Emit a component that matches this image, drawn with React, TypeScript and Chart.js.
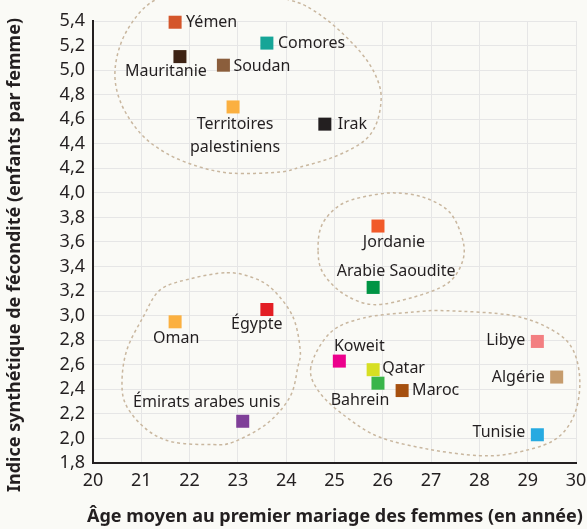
import React, { useEffect, useRef } from "react";
import { Chart, registerables } from "chart.js";

Chart.register(...registerables);

const countries = [
  "Yémen", "Comores", "Mauritanie", "Soudan", "Territoires\npalestiniens", "Irak",
  "Jordanie", "Arabie Saoudite", "Oman", "Égypte", "Émirats arabes unis",
  "Koweit", "Qatar", "Bahrein", "Maroc", "Libye", "Algérie", "Tunisie",
];
const ages = [21.7, 23.6, 21.8, 22.7, 22.9, 24.8, 25.9, 25.8, 21.7, 23.6, 23.1, 25.1, 25.8, 25.9, 26.4, 29.2, 29.6, 29.2];
const fertility = [5.39, 5.22, 5.11, 5.04, 4.7, 4.56, 3.73, 3.23, 2.95, 3.05, 2.14, 2.63, 2.56, 2.45, 2.39, 2.79, 2.5, 2.03];
const colors = [
  "#d4562b", "#16a597", "#3d2314", "#8b5e3c", "#fbb040", "#231f20",
  "#f15a29", "#009444", "#fbb040", "#e31e24", "#7f3f98",
  "#ec008c", "#d7df23", "#39b54a", "#a6500f", "#f37f81", "#c69c6d", "#27aae1",
];

// group outlines (data coordinates: age, fertility)
const groupHigh = [[23.15,5.65],[24.08,5.57],[24.55,5.49],[25.11,5.32],[25.67,5.08],[25.94,4.86],[25.94,4.67],[25.8,4.51],[25.53,4.4],[24.97,4.29],[24.29,4.21],[23.87,4.17],[22.9,4.16],[22.22,4.21],[21.53,4.32],[20.97,4.49],[20.56,4.75],[20.46,5.02],[20.7,5.32],[21.28,5.57],[22.22,5.64]];
const groupMid = [[24.66,3.53],[24.74,3.74],[25.11,3.9],[25.63,3.97],[26.25,4.0],[26.87,3.96],[27.39,3.84],[27.66,3.61],[27.64,3.43],[27.33,3.26],[26.63,3.15],[25.8,3.09],[25.18,3.18],[24.76,3.35]];
const groupLowLeft = [[22.77,3.35],[23.31,3.31],[23.73,3.21],[24.14,2.99],[24.29,2.72],[24.24,2.58],[24.08,2.34],[23.6,2.12],[22.9,1.97],[22.48,1.95],[21.66,1.97],[21.12,2.07],[20.7,2.26],[20.6,2.45],[20.7,2.72],[21.04,2.99],[21.39,3.21],[22.01,3.3]];
const groupLowRight = [[24.51,2.58],[24.7,2.37],[25.26,2.17],[25.94,2.01],[26.98,1.91],[28.01,1.86],[28.7,1.88],[29.52,1.98],[29.94,2.17],[30.08,2.45],[29.94,2.72],[29.52,2.88],[28.7,3.0],[27.33,3.04],[26.63,3.03],[25.59,2.98],[24.91,2.86]];
const groups = [groupHigh, groupMid, groupLowLeft, groupLowRight];

const xTitle = "Âge moyen au premier mariage des femmes (en année)";
const yTitle = "Indice synthétique de fécondité (enfants par femme)";

// label placement relative to each marker
const labelPlacement: [number, number, CanvasTextAlign][] = [
  [11, 0, "left"], [11, 0, "left"], [-14, 15, "center"], [10, 1, "left"],
  [2, 17, "center"], [13, 0, "left"], [16, 16, "center"], [23, -16, "center"],
  [1, 17, "center"], [-10, 15, "center"], [-36, -19, "center"], [20, -15, "center"],
  [9, -1, "left"], [-18, 17, "center"], [10, 0, "left"], [-12, -1, "right"],
  [-12, 0, "right"], [-12, -2, "right"],
];

const FONT = '"Noto Sans", sans-serif';
const TEXT = "#231f20";

function closedSpline(ctx: CanvasRenderingContext2D, pts: number[][]) {
  const n = pts.length;
  ctx.beginPath();
  ctx.moveTo(pts[0][0], pts[0][1]);
  for (let i = 0; i < n; i++) {
    const p0 = pts[(i - 1 + n) % n], p1 = pts[i], p2 = pts[(i + 1) % n], p3 = pts[(i + 2) % n];
    const c1x = p1[0] + (p2[0] - p0[0]) / 6, c1y = p1[1] + (p2[1] - p0[1]) / 6;
    const c2x = p2[0] - (p3[0] - p1[0]) / 6, c2y = p2[1] - (p3[1] - p1[1]) / 6;
    ctx.bezierCurveTo(c1x, c1y, c2x, c2y, p2[0], p2[1]);
  }
  ctx.closePath();
}

const decor = {
  id: "decor",
  beforeDraw(chart: any) {
    const ctx = chart.ctx;
    ctx.save();
    ctx.fillStyle = "#fafaf6";
    ctx.fillRect(0, 0, chart.width, chart.height);
    ctx.restore();
  },
  beforeDatasetsDraw(chart: any) {
    const ctx = chart.ctx;
    const xs = chart.scales.x, ys = chart.scales.y;
    ctx.save();
    ctx.strokeStyle = "#c9b79f";
    ctx.lineWidth = 1.5;
    ctx.setLineDash([3, 3]);
    groups.forEach((g) => {
      const pts = g.map(([a, b]) => [xs.getPixelForValue(a), ys.getPixelForValue(b)]);
      closedSpline(ctx, pts);
      ctx.stroke();
    });
    ctx.restore();
  },
  afterDatasetsDraw(chart: any) {
    const ctx = chart.ctx;
    const meta = chart.getDatasetMeta(0);
    ctx.save();
    ctx.fillStyle = TEXT;
    ctx.font = `16px ${FONT}`;
    ctx.textBaseline = "middle";
    meta.data.forEach((pt: any, i: number) => {
      const [dx, dy, align] = labelPlacement[i];
      ctx.textAlign = align;
      countries[i].split("\n").forEach((line, j) => {
        ctx.fillText(line, pt.x + dx, pt.y + dy + j * 23);
      });
    });
    // axis titles
    ctx.font = `bold 18px ${FONT}`;
    ctx.textAlign = "center";
    ctx.fillText(xTitle, 335, 517);
    ctx.translate(15, 255);
    ctx.rotate(-Math.PI / 2);
    ctx.fillText(yTitle, 0, 0);
    ctx.restore();
  },
};

export default function App() {
  const ref = useRef<HTMLCanvasElement>(null);
  useEffect(() => {
    document.body.style.margin = "0";
    const chart = new Chart(ref.current!, {
      type: "scatter",
      data: {
        datasets: [
          {
            data: ages.map((a, i) => ({ x: a, y: fertility[i] })),
            pointStyle: "rect",
            pointRadius: 9.2,
            pointHoverRadius: 9.2,
            pointBackgroundColor: colors,
            pointBorderColor: colors,
            pointBorderWidth: 0,
            clip: false,
          } as any,
        ],
      },
      options: {
        animation: false,
        responsive: false,
        events: [],
        layout: { padding: { top: 21, right: 11, left: 0, bottom: 0 } },
        plugins: { legend: { display: false }, tooltip: { enabled: false } },
        scales: {
          x: {
            type: "linear",
            min: 20,
            max: 30,
            afterFit: (s: any) => { s.height = 66; s.paddingLeft = 0; s.paddingRight = 0; },
            ticks: { stepSize: 1, autoSkip: false, maxRotation: 0, color: TEXT, font: { family: FONT, size: 18 }, padding: 7 },
            grid: { color: "#e6e6e6", drawTicks: false },
            border: { color: TEXT, width: 2 },
          },
          y: {
            type: "linear",
            min: 1.8,
            max: 5.4,
            afterFit: (s: any) => { s.width = 93; s.paddingTop = 0; s.paddingBottom = 0; },
            ticks: {
              stepSize: 0.2,
              autoSkip: false,
              color: TEXT,
              font: { family: FONT, size: 18 },
              padding: 8,
              callback: (v: any) => Number(v).toFixed(1).replace(".", ","),
            },
            grid: { color: "#e6e6e6", drawTicks: false },
            border: { color: TEXT, width: 2 },
          },
        },
      },
      plugins: [decor],
    });
    return () => chart.destroy();
  }, []);
  return (
    <div style={{ width: 587, height: 529 }}>
      <canvas ref={ref} width={587} height={529} style={{ display: "block" }} />
    </div>
  );
}
